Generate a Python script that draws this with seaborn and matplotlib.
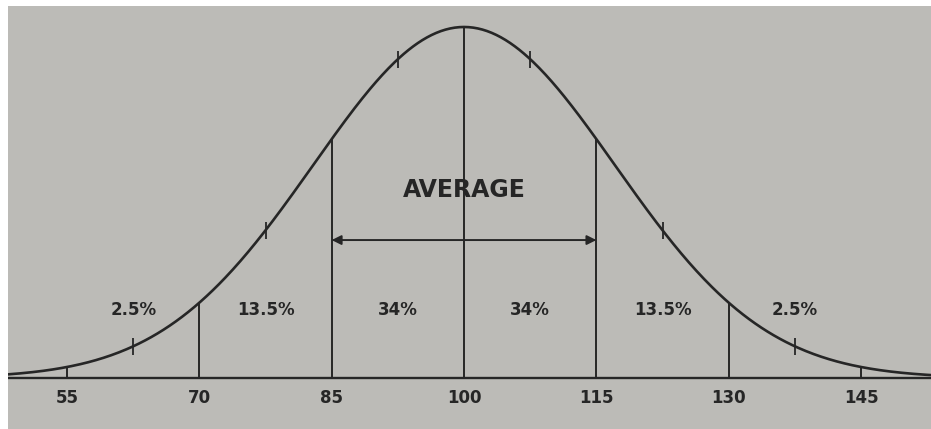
import numpy as np
import pandas as pd
import seaborn as sns
import matplotlib.pyplot as plt

# Data
scores = [55, 70, 85, 100, 115, 130, 145]
shares = ["2.5%", "13.5%", "34%", "34%", "13.5%", "2.5%"]
mean_score = 100
drawn_spread = 17.1   # width of the drawn bell, in score units
half_marks = [62.5, 77.5, 92.5, 107.5, 122.5, 137.5]

ink = "#262626"
paper = "#bcbbb7"

sns.set_theme(style="white")
plt.rcParams["font.family"] = ["DejaVu Sans"]

fig = plt.figure(figsize=(9.31, 4.29), dpi=100, facecolor="white")
ax = fig.add_axes([8 / 931, 0, 923 / 931, 423 / 429])
ax.set_facecolor(paper)


def bell(x):
    return np.exp(-0.5 * ((np.asarray(x) - mean_score) / drawn_spread) ** 2)


xs = np.linspace(48.3, 152.9, 600)
curve = pd.DataFrame({"score": xs, "height": bell(xs)})
sns.lineplot(data=curve, x="score", y="height", color=ink, lw=1.9, ax=ax)

ax.axhline(0, color=ink, lw=1.7)

# vertical dividers up to the curve
ax.vlines(scores, 0, bell(scores), color=ink, lw=1.4)

# little marks across the curve between the dividers
hm = bell(half_marks)
ax.vlines(half_marks, hm - 0.024, hm + 0.024, color=ink, lw=1.3)

# score labels below the base line
for s in scores:
    ax.text(s, -0.056, str(s), ha="center", va="center",
            fontsize=12, fontweight="bold", color=ink)

# share of people in each band
mids = [(a + b) / 2 for a, b in zip(scores[:-1], scores[1:])]
for m, lab in zip(mids, shares):
    ax.text(m, 0.195, lab, ha="center", va="center",
            fontsize=12, fontweight="bold", color=ink)

ax.annotate("", xy=(85, 0.393), xytext=(115, 0.393),
            arrowprops=dict(arrowstyle="<|-|>", color=ink, lw=1.4,
                            mutation_scale=14, shrinkA=0, shrinkB=0))
ax.text(100, 0.536, "AVERAGE", ha="center", va="center",
        fontsize=17, fontweight="bold", color=ink)

ax.set_xlim(48.31, 152.93)
ax.set_ylim(-0.1453, 1.0598)
ax.set_xlabel("")
ax.set_ylabel("")
ax.set_xticks([])
ax.set_yticks([])
for sp in ax.spines.values():
    sp.set_visible(False)

fig.savefig("out.png", dpi=100, facecolor="white")
